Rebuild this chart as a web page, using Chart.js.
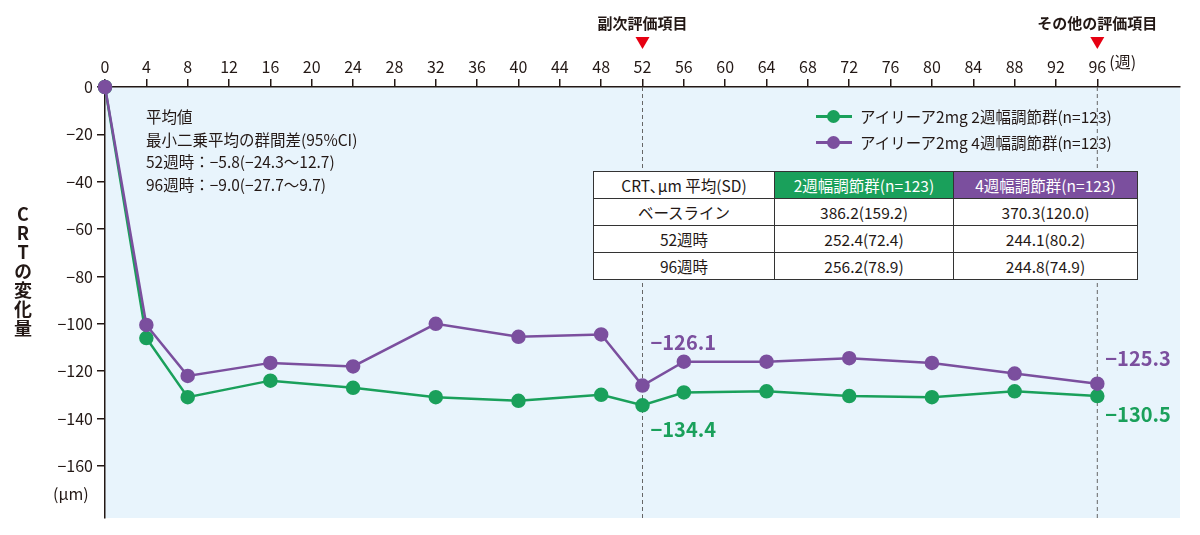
<!DOCTYPE html>
<html><head><meta charset="utf-8">
<script src="https://cdn.jsdelivr.net/npm/chart.js@4"></script>
<style>
  body { margin:0; background:#fff; font-family:"Noto Sans CJK JP", sans-serif; color:#231815; }
  #wrap { position:relative; width:1200px; height:535px; }
  .abs { position:absolute; white-space:nowrap; }
  .note { left:146px; top:105px; font-size:15.5px; line-height:22.5px; }
  .ytitle { left:10px; top:205px; writing-mode:vertical-rl; text-orientation:upright; font-size:18px; font-weight:bold; letter-spacing:1px; }
  .unit { left:53px; top:481px; font-size:16px; }
  .leg { font-size:15.5px; display:flex; align-items:center; }
  .leg i { display:inline-block; width:36px; height:3px; position:relative; margin-right:8px; }
  .leg i:after { content:""; position:absolute; left:11px; top:-5px; width:13px; height:13px; border-radius:50%; background:inherit; }
  table { position:absolute; left:593px; top:171px; border-collapse:collapse; font-size:15.5px; background:#fff; }
  td { border:1.5px solid #333; height:26px; padding:0; text-align:center; }
</style></head>
<body><div id="wrap">
<canvas id="c" width="1200" height="535"></canvas>
<div class="abs note">平均値<br>最小二乗平均の群間差(95%CI)<br>52週時：−5.8(−24.3～12.7)<br>96週時：−9.0(−27.7～9.7)</div>
<div class="abs ytitle">CRTの変化量</div>
<div class="abs unit">(μm)</div>
<div class="abs leg" style="left:816px;top:105px"><i style="background:#1aa05b"></i>アイリーア2mg 2週幅調節群(n=123)</div>
<div class="abs leg" style="left:816px;top:131px"><i style="background:#7b4f9e"></i>アイリーア2mg 4週幅調節群(n=123)</div>
<table>
<tr><td style="width:180px">CRT､μm 平均(SD)</td><td style="width:178px;background:#1aa05b;color:#fff">2週幅調節群(n=123)</td><td style="width:183px;background:#7b4f9e;color:#fff">4週幅調節群(n=123)</td></tr>
<tr><td>ベースライン</td><td>386.2(159.2)</td><td>370.3(120.0)</td></tr>
<tr><td>52週時</td><td>252.4(72.4)</td><td>244.1(80.2)</td></tr>
<tr><td>96週時</td><td>256.2(78.9)</td><td>244.8(74.9)</td></tr>
</table>
</div>
<script>
var weeks = [0, 4, 8, 16, 24, 32, 40, 48, 52, 56, 64, 72, 80, 88, 96];
var group2w = [0, -106, -131, -124, -127, -131, -132.5, -130, -134.4, -129, -128.5, -130.5, -131, -128.5, -130.5];
var group4w = [0, -100.5, -122, -116.5, -118, -100, -105.5, -104.5, -126.1, -116, -116, -114.5, -116.5, -121, -125.3];
var yTicks = [0, -20, -40, -60, -80, -100, -120, -140, -160];
var GREEN = "#1aa05b", PURPLE = "#7b4f9e";
var FONT = '"Noto Sans CJK JP", sans-serif';

function pts(vals) { return weeks.map(function (w, i) { return { x: w, y: vals[i] }; }); }

var decor = {
  id: "decor",
  beforeDraw: function (chart) {
    var a = chart.chartArea, c = chart.ctx;
    c.save(); c.fillStyle = "#e8f4fc";
    c.fillRect(a.left, a.top, a.right - a.left, a.bottom - a.top);
    c.restore();
  },
  beforeDatasetsDraw: function (chart) {
    var a = chart.chartArea, c = chart.ctx, xs = chart.scales.x;
    c.save();
    [[52, "副次評価項目"], [96, "その他の評価項目"]].forEach(function (m) {
      var px = xs.getPixelForValue(m[0]);
      c.setLineDash([4, 3]); c.strokeStyle = "#666"; c.lineWidth = 1;
      c.beginPath(); c.moveTo(px, a.top); c.lineTo(px, a.bottom); c.stroke();
      c.setLineDash([]);
      c.fillStyle = "#e60012";
      c.beginPath(); c.moveTo(px - 7, 37); c.lineTo(px + 7, 37); c.lineTo(px, 49); c.fill();
      c.fillStyle = "#231815"; c.font = "bold 15px " + FONT; c.textAlign = "center";
      c.fillText(m[1], px, 29);
    });
    c.font = "16px " + FONT; c.textAlign = "left";
    c.fillText("(週)", xs.getPixelForValue(96) + 12, 68);
    c.restore();
  },
  afterDatasetsDraw: function (chart) {
    var c = chart.ctx, xs = chart.scales.x, ys = chart.scales.y;
    c.save();
    c.font = "bold 20px " + FONT;
    var lbl = [[52, -126.1, PURPLE, 8, -36], [52, -134.4, GREEN, 8, 32], [96, -125.3, PURPLE, 8, -18], [96, -130.5, GREEN, 8, 26]];
    lbl.forEach(function (l) {
      c.fillStyle = l[2];
      c.fillText("−" + Math.abs(l[1]).toFixed(1), xs.getPixelForValue(l[0]) + l[3], ys.getPixelForValue(l[1]) + l[4]);
    });
    c.restore();
  }
};

new Chart(document.getElementById("c"), {
  type: "line",
  data: {
    datasets: [
      { data: pts(group4w), borderColor: PURPLE, backgroundColor: PURPLE, borderWidth: 2.5, pointRadius: 6, pointHoverRadius: 6, clip: false },
      { data: pts(group2w), borderColor: GREEN, backgroundColor: GREEN, borderWidth: 2.5, pointRadius: 6, pointHoverRadius: 6, clip: false }
    ]
  },
  options: {
    responsive: false, animation: false,
    layout: { padding: { left: 0, right: 20, top: 0, bottom: 17 } },
    plugins: { legend: { display: false }, tooltip: { enabled: false } },
    scales: {
      x: {
        type: "linear", position: "top", min: 0, max: 104,
        afterBuildTicks: function (s) { s.ticks = []; for (var w = 0; w <= 96; w += 4) s.ticks.push({ value: w }); },
        afterFit: function (s) { s.height = 87; },
        ticks: { color: "#231815", font: { family: FONT, size: 16 }, padding: 2, maxRotation: 0 },
        grid: { drawOnChartArea: false, color: "#231815", tickLength: 8, lineWidth: 1.5 },
        border: { color: "#231815", width: 1.5 }
      },
      y: {
        min: -182, max: 0,
        afterBuildTicks: function (s) { s.ticks = yTicks.map(function (v) { return { value: v }; }); },
        afterFit: function (s) { s.width = 105; },
        ticks: { color: "#231815", font: { family: FONT, size: 16 }, padding: 4,
          callback: function (v) { return v < 0 ? "−" + Math.abs(v) : String(v); } },
        grid: { drawOnChartArea: false, color: "#231815", tickLength: 8, lineWidth: 1.5 },
        border: { color: "#231815", width: 1.5 }
      }
    }
  },
  plugins: [decor]
});
</script>
</body></html>
